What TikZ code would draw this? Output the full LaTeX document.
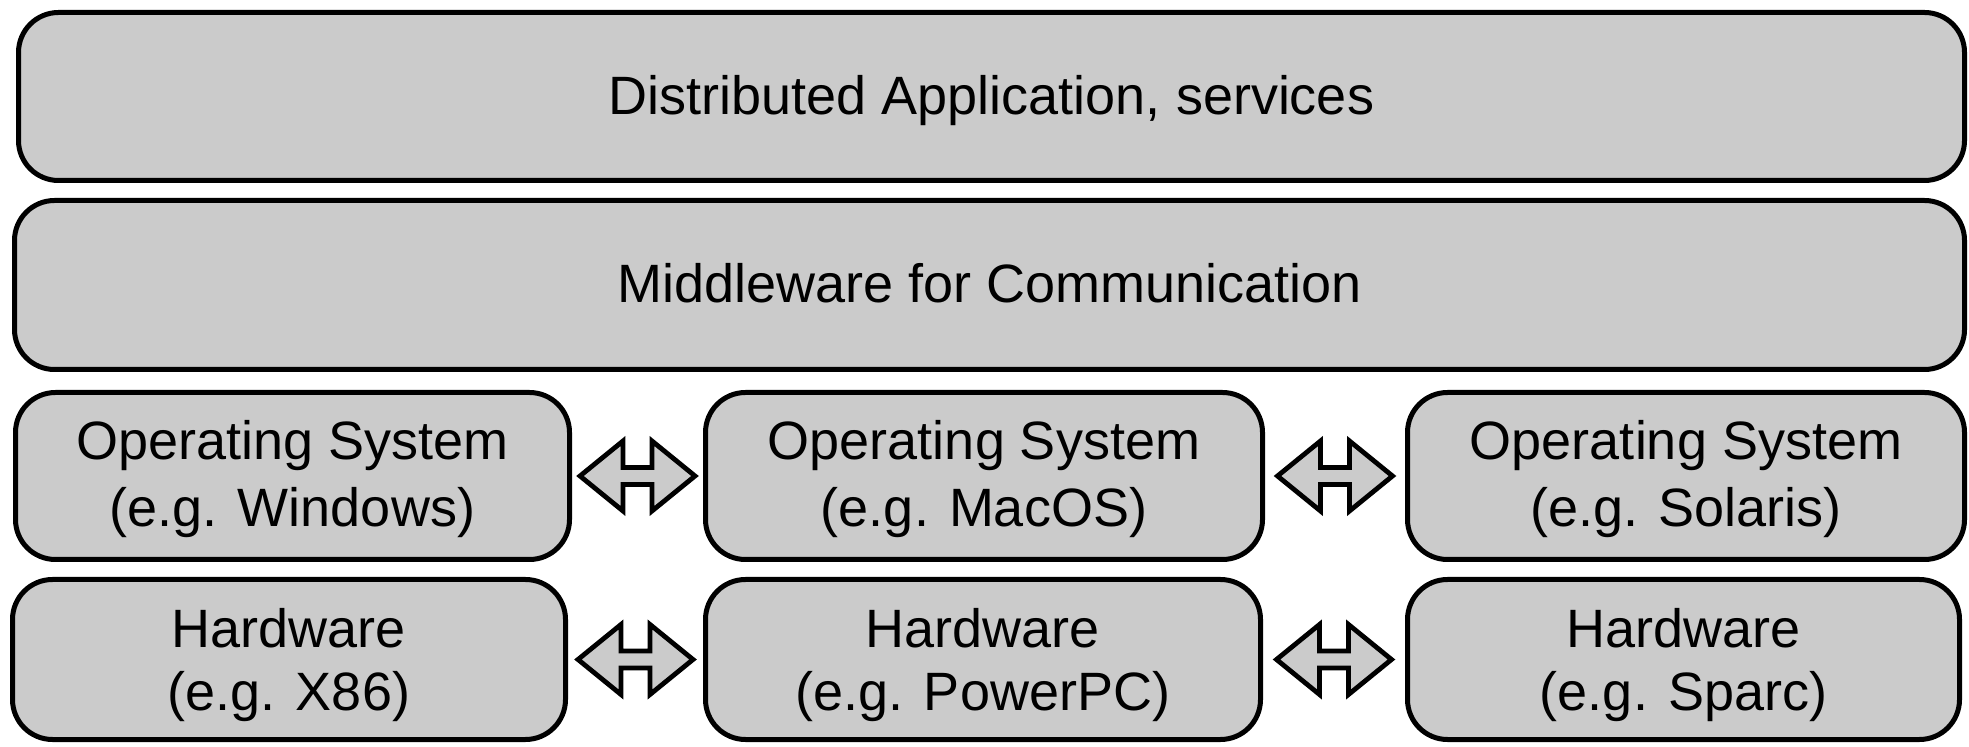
\documentclass[tikz,border=0pt]{standalone}
\usepackage{fontspec}
\setmainfont{Liberation Sans}
\usetikzlibrary{calc}
\definecolor{boxgray}{RGB}{203,203,203}
\def\pxu{0.5pt}
\tikzset{
  layerbox/.style={draw=black, fill=boxgray, line width=2.5pt, rounded corners=20pt,
    inner sep=0pt, outer sep=0pt, align=center, text depth=0pt},
  oneline/.style={text height=18pt, font=\fontsize{27pt}{33pt}\selectfont},
  osline/.style={text height=51pt, font=\fontsize{27pt}{33.5pt}\selectfont},
  hwline/.style={text height=51.5pt, font=\fontsize{27pt}{32pt}\selectfont},
  dblarrow/.style={draw=black, fill=boxgray, line width=2.4pt, line join=miter}
}
\begin{document}
\begin{tikzpicture}[x=0.5pt, y=-0.5pt]
\useasboundingbox (0,0) rectangle (1969,747);
\node[layerbox, oneline, minimum width={1946*\pxu}, minimum height={168*\pxu}] (app) at (991.5,96.5) {Distributed Application, services};
\node[layerbox, oneline, minimum width={1950*\pxu}, minimum height={169*\pxu}] (mid) at (989.5,285) {Middleware for Communication};
\node[layerbox, osline, minimum width={554*\pxu}, minimum height={167*\pxu}] (os1) at (292.5,476) {Operating System\\(e.g. Windows)};
\node[layerbox, osline, minimum width={557*\pxu}, minimum height={167*\pxu}] (os2) at (984,476) {Operating System\\(e.g. MacOS)};
\node[layerbox, osline, minimum width={557*\pxu}, minimum height={167*\pxu}] (os3) at (1686,476) {Operating System\\(e.g. Solaris)};
\node[layerbox, hwline, minimum width={553*\pxu}, minimum height={160*\pxu}] (hw1) at (289,659.5) {Hardware\\(e.g. X86)};
\node[layerbox, hwline, minimum width={555*\pxu}, minimum height={160*\pxu}] (hw2) at (983,659.5) {Hardware\\(e.g. PowerPC)};
\node[layerbox, hwline, minimum width={552*\pxu}, minimum height={160*\pxu}] (hw3) at (1683.5,659.5) {Hardware\\(e.g. Sparc)};
\foreach \a/\b/\n in {os1/os2/ao1, os2/os3/ao2, hw1/hw2/ah1, hw2/hw3/ah2}{
  \coordinate (\n) at ($(\a.east)!0.5!(\b.west)$);
  \draw[dblarrow] ($(\n)+(-57.5,0)$) -- ++(43,-35) -- ++(0,26.5) -- ++(29,0) -- ++(0,-26.5)
    -- ++(43,35) -- ++(-43,35) -- ++(0,-26.5) -- ++(-29,0) -- ++(0,26.5) -- cycle;
}
\end{tikzpicture}
\end{document}
